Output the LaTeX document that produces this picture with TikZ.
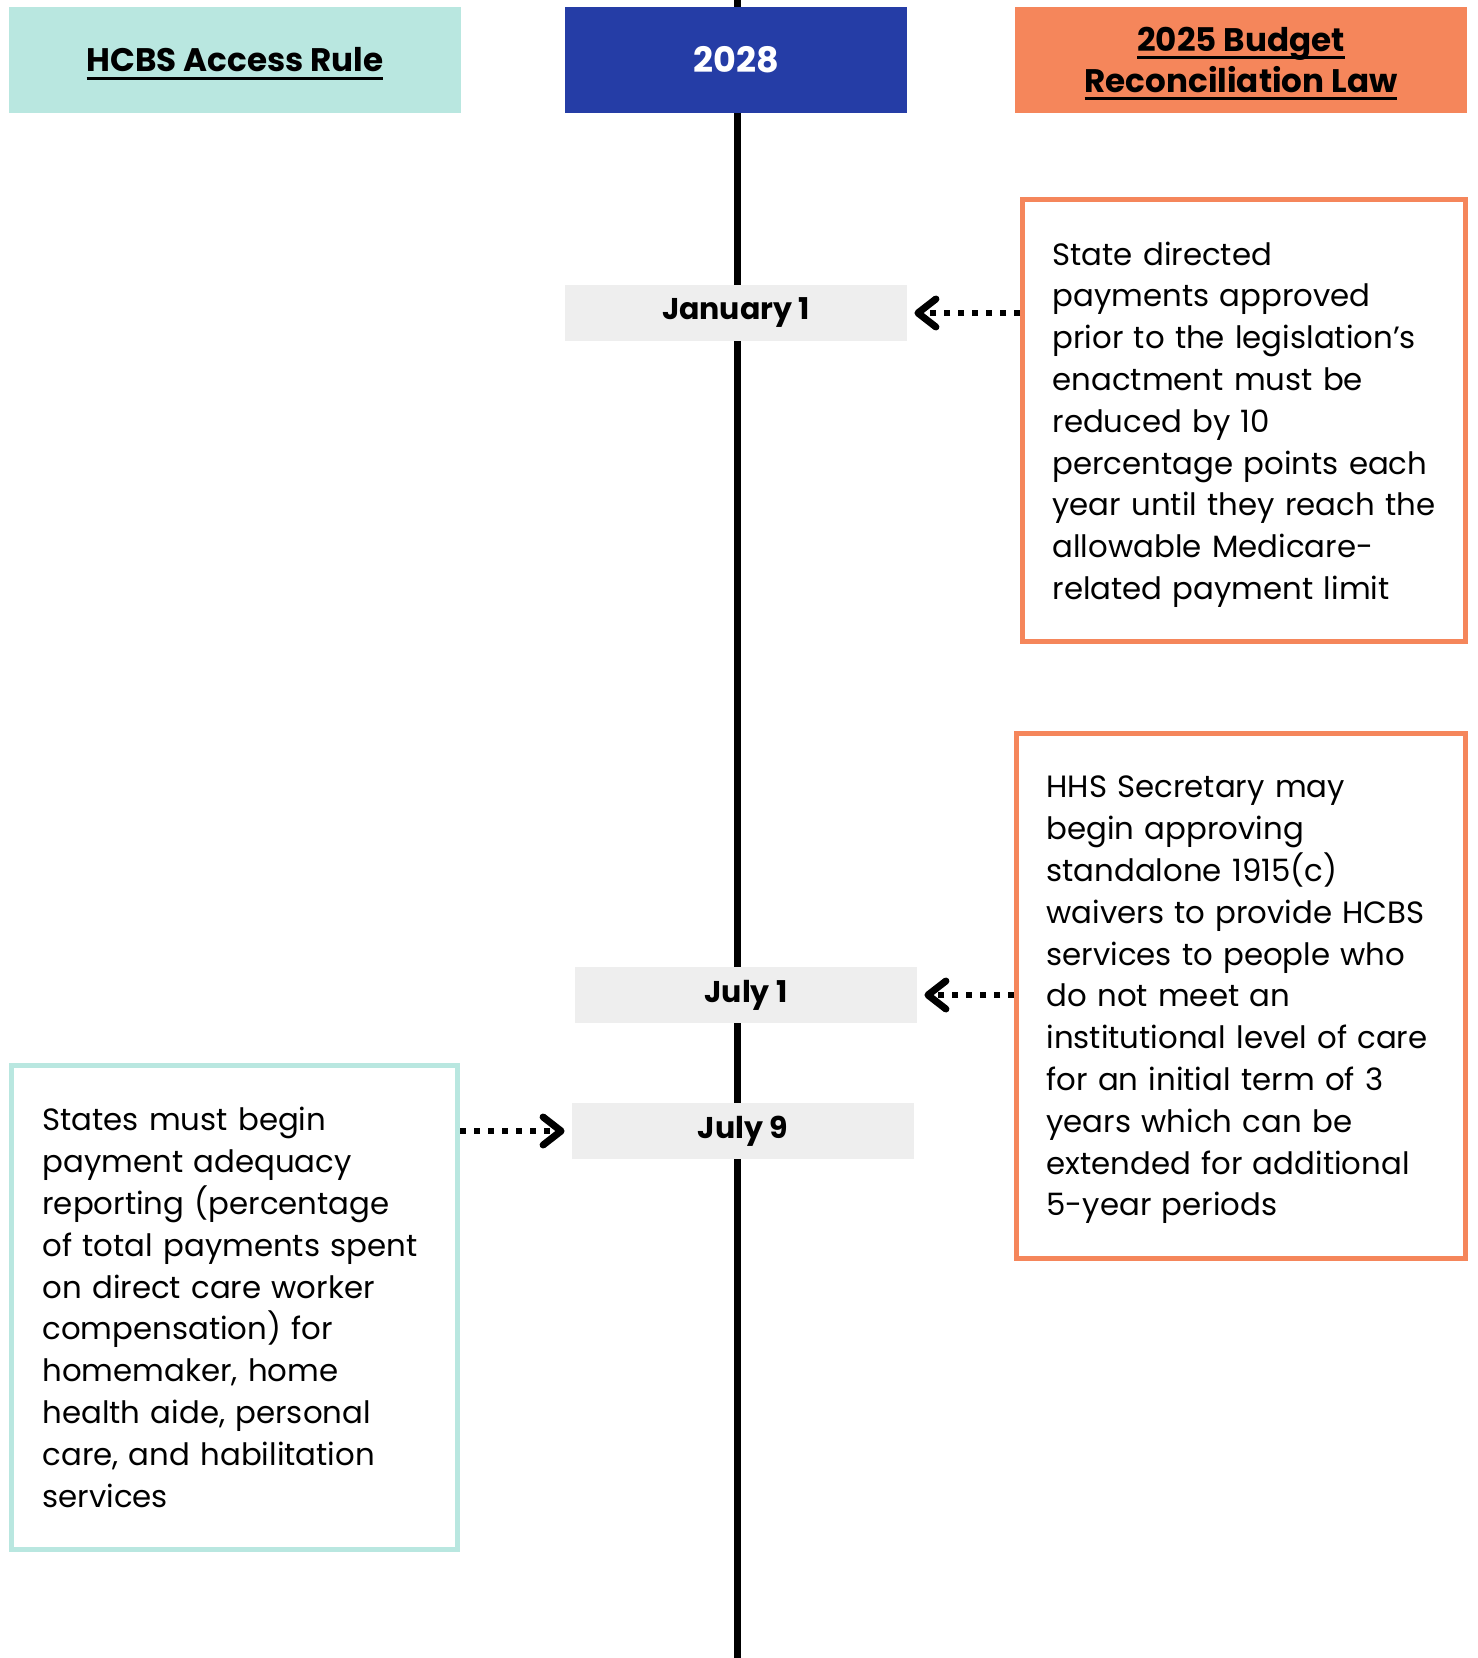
\documentclass[tikz,border=0pt]{standalone}
\usepackage{fontspec}
\setmainfont{Poppins}
\usetikzlibrary{arrows.meta, positioning}
\definecolor{hcbsteal}{HTML}{B9E7E0}
\definecolor{lawor}{HTML}{F5865B}
\definecolor{yearblue}{HTML}{253DA6}
\definecolor{dategray}{HTML}{EEEEEE}
\newsavebox{\hdbox}
\newcommand{\hdul}[1]{\leavevmode\sbox{\hdbox}{#1}\usebox{\hdbox}\kern-\wd\hdbox\smash{\rule[-3.8pt]{\wd\hdbox}{1.5pt}}}

\begin{document}
\begin{tikzpicture}[x=0.5pt, y=-0.5pt,
    head/.style={rectangle, minimum width=226pt, minimum height=53pt, align=center, font=\bfseries\fontsize{16.3}{20.6}\selectfont},
    date/.style={rectangle, fill=dategray, minimum width=171pt, minimum height=28pt, font=\bfseries\fontsize{15}{18}\selectfont},
    note/.style={rectangle, draw, line width=2.5pt, inner xsep=15pt, align=left, font=\fontsize{15.4}{20.9}\selectfont},
    dotarrow/.style={line width=3pt, dash pattern=on 3pt off 4pt, -{Straight Barb[length=9pt, width=14pt, line width=3.5pt, line cap=round, line join=round]}, shorten >=3.5pt}]
    \useasboundingbox (0,0) rectangle (1477,1658);

    % timeline
    \coordinate (top) at (737,0);
    \coordinate (bottom) at (737,1658);
    \draw[line width=3.5pt] (top) -- (bottom);

    \node[head, fill=hcbsteal] (hcbs) at (235,60) {\hdul{HCBS Access Rule}};
    \node[head, fill=yearblue, text=white, minimum width=171pt, font=\bfseries\fontsize{17.5}{21}\selectfont] (year) at (736,60) {2028};
    \node[head, fill=lawor] (law) at (1241,60) {\hdul{2025 Budget}\\\hdul{Reconciliation Law}};

    \node[date] (jan) at (736,313) {January 1};
    \node[date] (jul1) at (746,995) {July 1};
    \node[date] (jul9) at (743,1131) {July 9};

    \node[note, draw=lawor, minimum width=221.5pt, minimum height=221pt, text width=191.5pt] (sdp) at (1244,420.5)
        {State directed\\payments approved\\prior to the legislation’s\\enactment must be\\reduced by 10\\percentage points each\\year until they reach the\\allowable Medicare-\\\smash{related payment limit}};
    \node[note, draw=lawor, minimum width=224.5pt, minimum height=262.5pt, text width=194.5pt] (hhs) at (1241,996)
        {HHS Secretary may\\begin approving\\standalone 1915(c)\\waivers to provide HCBS\\services to people who\\do not meet an\\institutional level of care\\for an initial term of 3\\years which can be\\extended for additional\\\smash{5-year periods}};
    \node[note, draw=hcbsteal, minimum width=223pt, minimum height=242pt, text width=192pt] (adeq) at (234.5,1307.5)
        {States must begin\\payment adequacy\\reporting (percentage\\of total payments spent\\on direct care worker\\compensation) for\\homemaker, home\\health aide, personal\\care, and habilitation\\services};

    \draw[dotarrow] (sdp.west |- jan.east) -- (jan.east);
    \draw[dotarrow] (hhs.west |- jul1.east) -- (jul1.east);
    \draw[dotarrow] (adeq.east |- jul9.west) -- (jul9.west);
\end{tikzpicture}
\end{document}
